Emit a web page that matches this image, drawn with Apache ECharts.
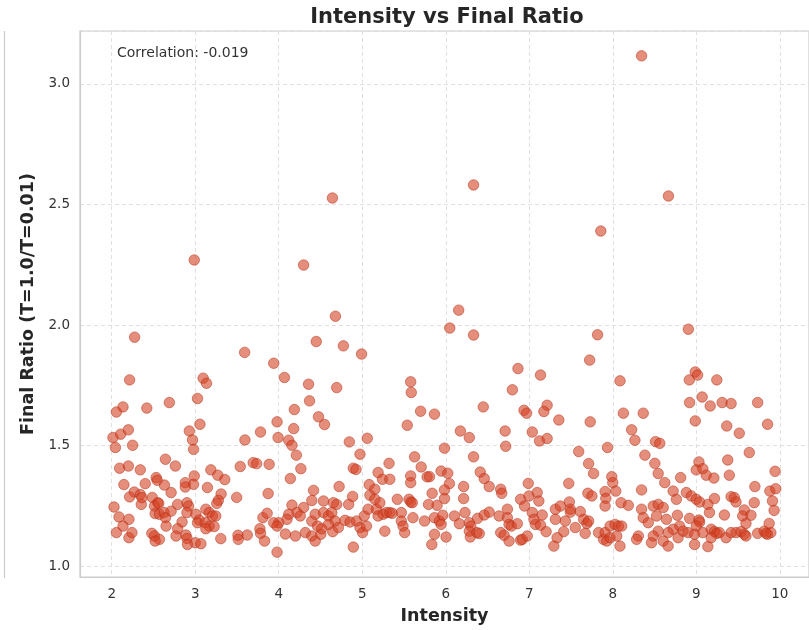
<!DOCTYPE html>
<html>
<head>
<meta charset="utf-8">
<title>Intensity vs Final Ratio</title>
<script src="https://cdn.jsdelivr.net/npm/echarts@6/dist/echarts.min.js"></script>
<style>
  html, body { margin: 0; padding: 0; background: #ffffff; }
  #chart { width: 809px; height: 630px; }
</style>
</head>
<body>
<div id="chart"></div>
<script>
// Intensity of each run (x) and its final ratio T=1.0 / T=0.01 (y), index-aligned.
const intensity = [
  8.345, 8.667, 6.333, 4.643, 7.857, 2.988, 4.298, 6.155, 4.679, 6.048, 6.333, 8.905, 2.274, 3.592, 4.449, 4.774, 4.992, 3.940, 7.818, 7.723, 6.865,
  2.214, 3.095, 3.135, 2.056, 2.135, 2.420, 2.690, 3.027, 3.056, 2.929, 2.968, 2.980, 2.015, 2.044, 2.107, 2.199, 2.250, 3.595, 2.643, 2.762,
  2.095, 2.199, 2.342, 2.532, 2.544, 2.631, 2.881, 2.881, 2.988, 2.980, 3.187, 3.270, 3.354, 3.539, 2.146, 2.401, 2.270, 2.214, 2.342, 2.354,
  2.361, 2.485, 2.551, 2.711, 3.146, 3.310, 3.277, 3.258, 3.496, 2.027, 2.087, 2.206, 2.135, 2.056, 2.206, 2.242, 2.512, 2.563, 2.520, 2.571,
  2.627, 2.643, 2.651, 2.711, 2.789, 2.901, 2.920, 2.901, 2.842, 2.789, 2.770, 2.480, 2.512, 2.571, 2.520, 2.889, 2.901, 2.908, 3.000, 3.068,
  3.008, 3.048, 3.027, 3.127, 3.167, 3.206, 3.246, 3.119, 3.167, 3.226, 3.127, 3.306, 3.512, 3.515, 3.623,
  4.068, 4.357, 4.694, 4.369, 4.187, 3.980, 4.476, 4.548, 4.179, 3.782, 3.992, 4.119, 4.158, 4.211, 4.265, 4.845, 5.060, 4.973, 4.893, 4.925,
  3.694, 3.735, 3.885, 4.139, 3.873, 4.417, 4.396, 4.723, 4.885, 4.837, 5.083, 5.092, 5.151, 5.190, 5.242, 5.330, 5.321, 4.158, 4.298, 4.218,
  4.258, 4.119, 4.099, 3.810, 3.861, 4.000, 3.940, 3.980, 3.774, 3.782, 3.830, 4.080, 4.199, 4.318, 4.396, 4.437, 4.504, 4.396, 4.437, 4.536,
  4.536, 4.595, 4.655, 4.635, 4.694, 4.675, 4.714, 4.646, 4.595, 4.464, 4.515, 3.980, 4.893, 4.794, 4.854, 4.932, 4.973, 5.004, 5.051, 5.024,
  5.071, 5.170, 5.190, 5.250, 5.289, 5.330, 5.270, 5.211, 5.151,
  5.580, 5.587, 5.699, 5.865, 5.539, 6.449, 6.798, 6.937, 6.968, 6.175, 6.282, 6.711, 6.718, 7.036, 5.985, 6.333, 5.627, 5.706, 5.944, 6.024,
  6.044, 6.413, 6.461, 6.520, 5.580, 5.580, 5.777, 5.806, 6.214, 6.658, 6.670, 6.988, 5.985, 5.837, 5.985, 6.214, 5.420, 5.560, 5.580, 5.599,
  5.794, 5.896, 5.360, 5.468, 5.607, 5.746, 5.865, 5.925, 5.964, 5.944, 6.104, 6.163, 6.230, 6.282, 6.301, 6.381, 6.461, 6.520, 5.468, 5.488,
  5.508, 5.865, 5.833, 6.004, 6.282, 6.294, 6.373, 6.401, 6.639, 6.738, 6.738, 6.758, 6.786, 6.857, 6.658, 6.699, 6.758, 6.896, 6.917, 6.976,
  6.896, 6.944, 6.996, 7.036, 7.056, 7.075,
  7.135, 7.214, 7.175, 7.354, 7.123, 7.214, 7.730, 8.087, 8.127, 8.365, 8.226, 8.265, 8.512, 8.563, 7.592, 7.937, 7.711, 7.770, 8.385, 8.504,
  8.544, 8.813, 7.473, 7.988, 8.000, 8.036, 7.702, 7.750, 7.908, 7.917, 7.908, 8.099, 8.187, 8.345, 8.623, 8.723, 8.762, 7.095, 7.115, 7.155,
  7.135, 7.202, 7.313, 7.373, 7.480, 7.492, 7.492, 7.611, 7.432, 7.313, 7.413, 7.333, 7.294, 7.551, 7.651, 7.690, 7.670, 7.711, 7.830, 7.889,
  7.908, 7.929, 7.968, 7.968, 8.027, 8.068, 8.107, 8.048, 8.087, 8.345, 8.365, 8.425, 8.485, 8.544, 8.604, 8.524, 8.643, 8.774, 8.801, 8.723,
  8.663, 8.544, 8.485, 8.464, 8.306, 8.286, 8.604, 8.663, 8.782,
  8.988, 9.016, 8.917, 9.246, 8.920, 9.071, 9.167, 9.310, 9.417, 9.735, 8.988, 9.365, 9.515, 9.854, 9.635, 9.032, 9.000, 9.079, 9.119, 9.211,
  9.377, 9.396, 9.944, 9.702, 9.881, 9.952, 8.881, 8.940, 9.000, 9.040, 9.218, 9.417, 9.456, 9.476, 9.913, 9.694, 9.139, 9.158, 8.920, 9.032,
  9.040, 9.000, 9.337, 9.575, 9.556, 9.655, 9.595, 9.932, 8.842, 8.901, 8.980, 9.079, 9.179, 9.218, 9.246, 9.277, 9.357, 9.417, 9.476, 9.536,
  9.575, 9.595, 8.980, 9.139, 9.179, 9.735, 9.813, 9.854, 9.893, 9.873, 9.833
];

const finalRatio = [
  3.116, 2.535, 2.581, 2.527, 2.390, 2.270, 2.249, 2.062, 2.037, 1.988, 1.959, 1.983, 1.950, 1.887, 1.932, 1.914, 1.880, 1.842, 1.960, 1.855, 1.820,
  1.773, 1.780, 1.759, 1.640, 1.661, 1.656, 1.679, 1.696, 1.589, 1.561, 1.524, 1.485, 1.534, 1.493, 1.548, 1.566, 1.502, 1.524, 1.444, 1.416,
  1.407, 1.416, 1.400, 1.368, 1.357, 1.337, 1.347, 1.329, 1.375, 1.340, 1.400, 1.378, 1.360, 1.414, 1.339, 1.343, 1.308, 1.288, 1.298, 1.257,
  1.285, 1.286, 1.264, 1.306, 1.327, 1.300, 1.274, 1.261, 1.286, 1.246, 1.205, 1.195, 1.167, 1.140, 1.119, 1.140, 1.250, 1.261, 1.219, 1.216,
  1.223, 1.202, 1.167, 1.229, 1.257, 1.264, 1.250, 1.223, 1.184, 1.156, 1.126, 1.137, 1.126, 1.112, 1.105, 1.130, 1.116, 1.091, 1.098, 1.094,
  1.216, 1.192, 1.181, 1.237, 1.223, 1.209, 1.209, 1.181, 1.167, 1.165, 1.156, 1.115, 1.129, 1.112, 1.130,
  1.783, 1.755, 1.741, 1.686, 1.650, 1.599, 1.620, 1.588, 1.571, 1.557, 1.534, 1.523, 1.502, 1.461, 1.405, 1.516, 1.531, 1.465, 1.407, 1.402,
  1.430, 1.426, 1.423, 1.364, 1.302, 1.315, 1.273, 1.331, 1.290, 1.257, 1.339, 1.295, 1.320, 1.389, 1.361, 1.361, 1.427, 1.254, 1.244, 1.223,
  1.209, 1.216, 1.195, 1.202, 1.220, 1.181, 1.181, 1.167, 1.156, 1.137, 1.105, 1.134, 1.126, 1.140, 1.126, 1.105, 1.133, 1.188, 1.216, 1.271,
  1.223, 1.209, 1.264, 1.223, 1.257, 1.188, 1.161, 1.144, 1.174, 1.167, 1.156, 1.059, 1.080, 1.191, 1.184, 1.188, 1.161, 1.140, 1.167, 1.209,
  1.237, 1.237, 1.209, 1.216, 1.223, 1.223, 1.146, 1.264, 1.278,
  1.765, 1.721, 1.643, 1.631, 1.585, 1.661, 1.732, 1.647, 1.635, 1.561, 1.534, 1.561, 1.498, 1.557, 1.490, 1.454, 1.454, 1.412, 1.395, 1.386,
  1.343, 1.391, 1.364, 1.331, 1.375, 1.347, 1.371, 1.372, 1.331, 1.320, 1.303, 1.344, 1.317, 1.303, 1.281, 1.281, 1.278, 1.278, 1.267, 1.264,
  1.257, 1.253, 1.220, 1.223, 1.202, 1.188, 1.202, 1.188, 1.212, 1.174, 1.209, 1.177, 1.223, 1.181, 1.167, 1.199, 1.213, 1.225, 1.188, 1.167,
  1.140, 1.133, 1.091, 1.122, 1.146, 1.122, 1.140, 1.136, 1.209, 1.237, 1.202, 1.174, 1.167, 1.177, 1.140, 1.129, 1.105, 1.109, 1.112, 1.126,
  1.278, 1.250, 1.292, 1.223, 1.195, 1.174,
  1.793, 1.668, 1.642, 1.607, 1.520, 1.530, 1.599, 1.769, 1.635, 1.635, 1.566, 1.523, 1.517, 1.510, 1.476, 1.493, 1.426, 1.385, 1.461, 1.427,
  1.385, 1.368, 1.344, 1.372, 1.347, 1.312, 1.303, 1.292, 1.310, 1.282, 1.250, 1.264, 1.253, 1.317, 1.347, 1.312, 1.278, 1.306, 1.271, 1.213,
  1.171, 1.144, 1.237, 1.250, 1.267, 1.237, 1.225, 1.227, 1.188, 1.195, 1.144, 1.119, 1.084, 1.161, 1.195, 1.178, 1.137, 1.188, 1.140, 1.112,
  1.140, 1.105, 1.119, 1.167, 1.174, 1.167, 1.167, 1.126, 1.084, 1.237, 1.202, 1.181, 1.250, 1.257, 1.244, 1.209, 1.195, 1.212, 1.167, 1.154,
  1.140, 1.146, 1.126, 1.098, 1.126, 1.112, 1.105, 1.084, 1.119,
  1.806, 1.793, 1.773, 1.773, 1.679, 1.702, 1.665, 1.679, 1.675, 1.679, 1.603, 1.582, 1.552, 1.589, 1.472, 1.433, 1.400, 1.405, 1.378, 1.366,
  1.441, 1.378, 1.394, 1.331, 1.312, 1.322, 1.306, 1.292, 1.278, 1.267, 1.281, 1.289, 1.285, 1.267, 1.271, 1.264, 1.257, 1.223, 1.199, 1.192,
  1.184, 1.167, 1.213, 1.234, 1.209, 1.212, 1.178, 1.232, 1.146, 1.140, 1.133, 1.140, 1.154, 1.144, 1.137, 1.140, 1.119, 1.140, 1.140, 1.144,
  1.133, 1.126, 1.091, 1.082, 1.119, 1.137, 1.146, 1.133, 1.140, 1.178, 1.137
];

const correlationText = 'Correlation: -0.019';
const chartTitle = 'Intensity vs Final Ratio';
const xName = 'Intensity';
const yName = 'Final Ratio (T=1.0/T=0.01)';

const points = intensity.map((x, i) => [x, finalRatio[i]]);

const FONT = '"DejaVu Sans", "Liberation Sans", sans-serif';
const chart = echarts.init(document.getElementById('chart'), null, { renderer: 'canvas' });

chart.setOption({
  animation: false,
  backgroundColor: '#ffffff',
  title: {
    text: chartTitle,
    left: 442,
    top: 2,
    textAlign: 'center',
    textStyle: { fontFamily: FONT, fontSize: 21, fontWeight: 'bold', color: '#262626' }
  },
  grid: {
    left: 80, top: 31, right: -4, bottom: 52,
    show: true, borderColor: '#cccccc', borderWidth: 1.2, backgroundColor: '#ffffff',
    containLabel: false
  },
  xAxis: {
    type: 'value',
    min: 1.62, max: 10.35,
    splitNumber: 8,
    name: xName,
    nameLocation: 'middle',
    nameGap: 30,
    nameTextStyle: { fontFamily: FONT, fontSize: 17.5, fontWeight: 'bold', color: '#262626' },
    axisLine: { show: true, lineStyle: { color: '#cccccc', width: 1.2 } },
    axisTick: { show: false },
    axisLabel: {
      showMinLabel: false, showMaxLabel: false,
      margin: 10, fontFamily: FONT, fontSize: 13.5, color: '#333333',
      formatter: v => String(Math.round(v))
    },
    splitLine: { show: true, lineStyle: { color: '#dcdcdc', type: [4, 3], width: 0.9 } }
  },
  yAxis: {
    type: 'value',
    min: 0.956, max: 3.219,
    splitNumber: 5,
    name: yName,
    nameLocation: 'middle',
    nameGap: 42,
    nameRotate: 90,
    nameTextStyle: { fontFamily: FONT, fontSize: 17.5, fontWeight: 'bold', color: '#262626' },
    axisLine: { show: true, lineStyle: { color: '#cccccc', width: 1.2 } },
    axisTick: { show: false },
    axisLabel: {
      showMinLabel: false, showMaxLabel: false,
      margin: 10, fontFamily: FONT, fontSize: 13.5, color: '#333333',
      formatter: v => v.toFixed(1)
    },
    splitLine: { show: true, lineStyle: { color: '#dcdcdc', type: [4, 3], width: 0.9 } }
  },
  graphic: [
    {
      type: 'text', left: 117, top: 46, z: 10,
      style: { text: correlationText, font: '14px ' + FONT, fill: '#333333' }
    },
    {
      type: 'line', z: 10,
      shape: { x1: 4.5, y1: 31, x2: 4.5, y2: 578 },
      style: { stroke: '#cccccc', lineWidth: 1.2 }
    }
  ],
  series: [{
    type: 'scatter',
    data: points,
    symbol: 'circle',
    symbolSize: 10.5,
    itemStyle: {
      color: 'rgba(212, 64, 34, 0.74)',
      borderColor: 'rgba(178, 46, 22, 0.8)',
      borderWidth: 0.8
    }
  }]
});
</script>
</body>
</html>
